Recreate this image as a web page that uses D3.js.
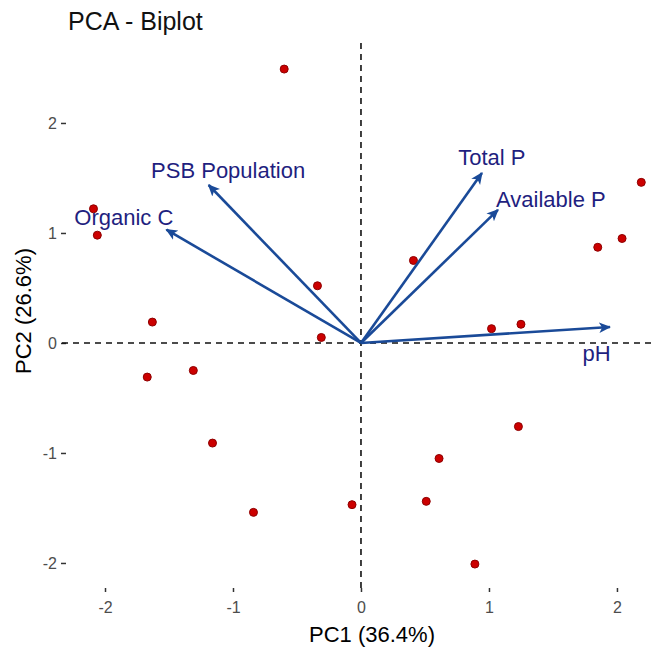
<!DOCTYPE html>
<html>
<head>
<meta charset="utf-8">
<script src="https://cdn.jsdelivr.net/npm/d3@7"></script>
<style>
  body { margin: 0; background: #fff; }
  svg { display: block; font-family: 'Liberation Sans', Arial, sans-serif; }
  .tick text { fill: #4d4d4d; font-size: 16px; }
  .tick line { stroke: #333; stroke-width: 1.5; }
</style>
</head>
<body>
<script>
// individuals (scores)
const pc1 = [-0.60, -2.09, -2.06, -1.63, -1.67, -1.31, -1.16, -0.84, -0.34, -0.31, 0.41,
  2.19, 2.04, 1.85, 1.02, 1.25, 1.23, 0.61, 0.51, -0.07, 0.89];
const pc2 = [2.49, 1.22, 0.98, 0.19, -0.31, -0.25, -0.91, -1.54, 0.52, 0.05, 0.75,
  1.46, 0.95, 0.87, 0.13, 0.17, -0.76, -1.05, -1.44, -1.47, -2.01];

// variables (loadings) and where their labels sit
const varNames = ['pH', 'Total P', 'Available P', 'PSB Population', 'Organic C'];
const loadPC1 = [1.945, 0.945, 1.07, -1.19, -1.52];
const loadPC2 = [0.145, 1.545, 1.21, 1.436, 1.03];
const labelPC1 = [1.73, 0.76, 1.055, -1.64, -2.24];
const labelPC2 = [-0.16, 1.62, 1.24, 1.50, 1.07];

const ticks = [-2, -1, 0, 1, 2];

const width = 655;
const height = 650;

const xScale = d3.scaleLinear()
  .domain([-2.336, 2.516])
  .range([62, 683]);

const yScale = d3.scaleLinear()
  .domain([-2.273, 2.727])
  .range([593, 43]);

const svg = d3.select('body')
  .append('svg')
  .attr('width', width)
  .attr('height', height);

svg.append('defs')
  .append('marker')
  .attr('id', 'arrowhead')
  .attr('viewBox', '0 0 10 10')
  .attr('refX', 9)
  .attr('refY', 5)
  .attr('markerUnits', 'userSpaceOnUse')
  .attr('markerWidth', 12)
  .attr('markerHeight', 12)
  .attr('orient', 'auto')
  .append('path')
  .attr('d', 'M0,0.5 L10,5 L0,9.5 L2.5,5 Z')
  .attr('fill', '#1a4a98');

svg.append('text')
  .attr('x', 68)
  .attr('y', 30)
  .style('font-size', '25px')
  .style('fill', '#111')
  .text('PCA - Biplot');

// axes
const xAxis = d3.axisBottom(xScale)
  .tickValues(ticks)
  .tickSize(4)
  .tickPadding(10)
  .tickFormat(d => String(d));

const yAxis = d3.axisLeft(yScale)
  .tickValues(ticks)
  .tickSize(5)
  .tickPadding(4)
  .tickFormat(d => String(d));

svg.append('g')
  .attr('transform', 'translate(0,588)')
  .call(xAxis)
  .call(g => g.select('.domain').remove());

svg.append('g')
  .attr('transform', 'translate(66,0)')
  .call(yAxis)
  .call(g => g.select('.domain').remove());

svg.append('text')
  .attr('x', 372)
  .attr('y', 642)
  .attr('text-anchor', 'middle')
  .style('font-size', '22px')
  .text('PC1 (36.4%)');

svg.append('text')
  .attr('transform', 'translate(31,311) rotate(-90)')
  .attr('text-anchor', 'middle')
  .style('font-size', '22px')
  .text('PC2 (26.6%)');

// reference lines through the origin
svg.append('line')
  .attr('x1', xScale.range()[0])
  .attr('x2', xScale.range()[1])
  .attr('y1', yScale(0))
  .attr('y2', yScale(0))
  .attr('stroke', '#111')
  .attr('stroke-width', 1.6)
  .attr('stroke-dasharray', '6,5');

svg.append('line')
  .attr('x1', xScale(0))
  .attr('x2', xScale(0))
  .attr('y1', yScale.range()[1])
  .attr('y2', yScale.range()[0])
  .attr('stroke', '#111')
  .attr('stroke-width', 1.6)
  .attr('stroke-dasharray', '6,5');

svg.append('g')
  .selectAll('circle')
  .data(pc1)
  .join('circle')
  .attr('cx', d => xScale(d))
  .attr('cy', (d, i) => yScale(pc2[i]))
  .attr('r', 4)
  .attr('fill', '#cc0000')
  .attr('stroke', '#8e0000')
  .attr('stroke-width', 1);

svg.append('g')
  .selectAll('line')
  .data(varNames)
  .join('line')
  .attr('x1', xScale(0))
  .attr('y1', yScale(0))
  .attr('x2', (d, i) => xScale(loadPC1[i]))
  .attr('y2', (d, i) => yScale(loadPC2[i]))
  .attr('stroke', '#1a4a98')
  .attr('stroke-width', 2.6)
  .attr('marker-end', 'url(#arrowhead)');

svg.append('g')
  .selectAll('text')
  .data(varNames)
  .join('text')
  .attr('x', (d, i) => xScale(labelPC1[i]))
  .attr('y', (d, i) => yScale(labelPC2[i]))
  .style('font-size', '22px')
  .style('fill', '#1f1f80')
  .text(d => d);
</script>
</body>
</html>
